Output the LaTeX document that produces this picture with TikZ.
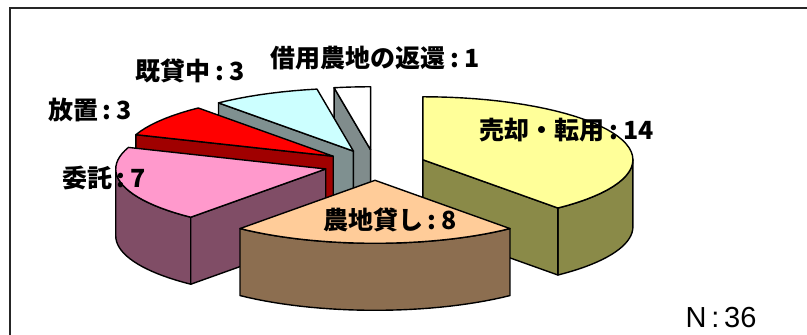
\documentclass[tikz,border=0pt]{standalone}
\usepackage{fontspec}
\newfontfamily\jpfont{Noto Sans CJK JP}
\newfontfamily\lsans{Liberation Sans}
\newcommand\cl{\makebox[0.75em]{:}}
\definecolor{ytop}{HTML}{FFFF99}
\definecolor{yside}{HTML}{8A8A48}
\definecolor{btop}{HTML}{FFCC99}
\definecolor{bside}{HTML}{8C6E50}
\definecolor{ptop}{HTML}{FF99CC}
\definecolor{pside}{HTML}{804D66}
\definecolor{rtop}{HTML}{FF0000}
\definecolor{rside}{HTML}{A00000}
\definecolor{ctop}{HTML}{CCFFFF}
\definecolor{cside}{HTML}{7F9090}
\definecolor{wtop}{HTML}{FFFFFF}
\definecolor{wside}{HTML}{808C8C}
\tikzset{
  face/.style={draw=black, line width=1.4pt, line join=round},
  lbl/.style={font=\jpfont\bfseries\fontsize{25}{30}\selectfont, inner sep=0pt},
  nlbl/.style={font=\lsans\fontsize{29}{34}\selectfont, inner sep=0pt},
  frame/.style={draw=black!85, line width=2pt}
}
\begin{document}
\begin{tikzpicture}[x=1pt,y=-1pt]
\fill[white] (0,0) rectangle (807,335);
\useasboundingbox (0,0) rectangle (807,335);
\draw[frame] (10,336) -- (10,8) -- (808,8);

% slice centres (exploded along bisector)
\coordinate (cW) at ({375 + 51*sin(355)}, {165 - 15.3*cos(355)});
\coordinate (cC) at ({375 + 51*sin(335)}, {165 - 15.3*cos(335)});
\coordinate (cR) at ({375 + 51*sin(305)}, {165 - 15.3*cos(305)});
\coordinate (cP) at ({375 + 51*sin(255)}, {165 - 15.3*cos(255)});
\coordinate (cY) at ({375 + 51*sin(70)},  {165 - 15.3*cos(70)});
\coordinate (cB) at ({375 + 51*sin(180)}, {165 - 15.3*cos(180)});

% white: 350..360
\begin{scope}[shift={(cW)}]
  \path[face, fill=wside] (0,0) -- ({210*sin(350)},{-63*cos(350)}) -- ({210*sin(350)},{-63*cos(350)+67}) -- (0,67) -- cycle;
  \path[face, fill=wtop] (0,0) -- plot[domain=350:360, samples=5] ({210*sin(\x)},{-63*cos(\x)}) -- cycle;
\end{scope}
% cyan: 320..350
\begin{scope}[shift={(cC)}]
  \path[face, fill=cside] (0,0) -- ({210*sin(320)},{-63*cos(320)}) -- ({210*sin(320)},{-63*cos(320)+67}) -- (0,67) -- cycle;
  \path[face, fill=ctop] (0,0) -- plot[domain=320:350, samples=10] ({210*sin(\x)},{-63*cos(\x)}) -- cycle;
\end{scope}
% red: 290..320
\begin{scope}[shift={(cR)}]
  \path[face, fill=rside] (0,0) -- ({210*sin(290)},{-63*cos(290)}) -- ({210*sin(290)},{-63*cos(290)+67}) -- (0,67) -- cycle;
  \path[face, fill=rtop] (0,0) -- plot[domain=290:320, samples=10] ({210*sin(\x)},{-63*cos(\x)}) -- cycle;
\end{scope}
% pink: 220..290
\begin{scope}[shift={(cP)}]
  \path[face, fill=pside] plot[domain=220:270, samples=20] ({210*sin(\x)},{-63*cos(\x)}) -- plot[domain=270:220, samples=20] ({210*sin(\x)},{-63*cos(\x)+67}) -- cycle;
  \path[face, fill=pside] (0,0) -- ({210*sin(220)},{-63*cos(220)}) -- ({210*sin(220)},{-63*cos(220)+67}) -- (0,67) -- cycle;
  \path[face, fill=ptop] (0,0) -- plot[domain=220:290, samples=25] ({210*sin(\x)},{-63*cos(\x)}) -- cycle;
\end{scope}
% yellow: 0..140
\begin{scope}[shift={(cY)}]
  \path[face, fill=yside] plot[domain=90:140, samples=20] ({210*sin(\x)},{-63*cos(\x)}) -- plot[domain=140:90, samples=20] ({210*sin(\x)},{-63*cos(\x)+67}) -- cycle;
  \path[face, fill=yside] (0,0) -- ({210*sin(140)},{-63*cos(140)}) -- ({210*sin(140)},{-63*cos(140)+67}) -- (0,67) -- cycle;
  \path[face, fill=ytop] (0,0) -- plot[domain=0:140, samples=40] ({210*sin(\x)},{-63*cos(\x)}) -- cycle;
\end{scope}
% peach/brown: 140..220
\begin{scope}[shift={(cB)}]
  \path[face, fill=bside] plot[domain=140:220, samples=30] ({210*sin(\x)},{-63*cos(\x)}) -- plot[domain=220:140, samples=30] ({210*sin(\x)},{-63*cos(\x)+67}) -- cycle;
  \path[face, fill=btop] (0,0) -- plot[domain=140:220, samples=30] ({210*sin(\x)},{-63*cos(\x)}) -- cycle;
\end{scope}

% labels
\node[lbl] (lY) at (567,130) {売却・転用\cl14};
\node[lbl] (lB) at (390,220) {農地貸し\cl8};
\node[lbl] (lP) at (104,178) {委託\cl7};
\node[lbl] (lR) at (90,110) {放置\cl3};
\node[lbl] (lC) at (190,71) {既貸中\cl3};
\node[lbl] (lW) at (375,58) {借用農地の返還\cl1};
\node[nlbl] (lN) at (721,318) {N\,:\,36};
\end{tikzpicture}
\end{document}
